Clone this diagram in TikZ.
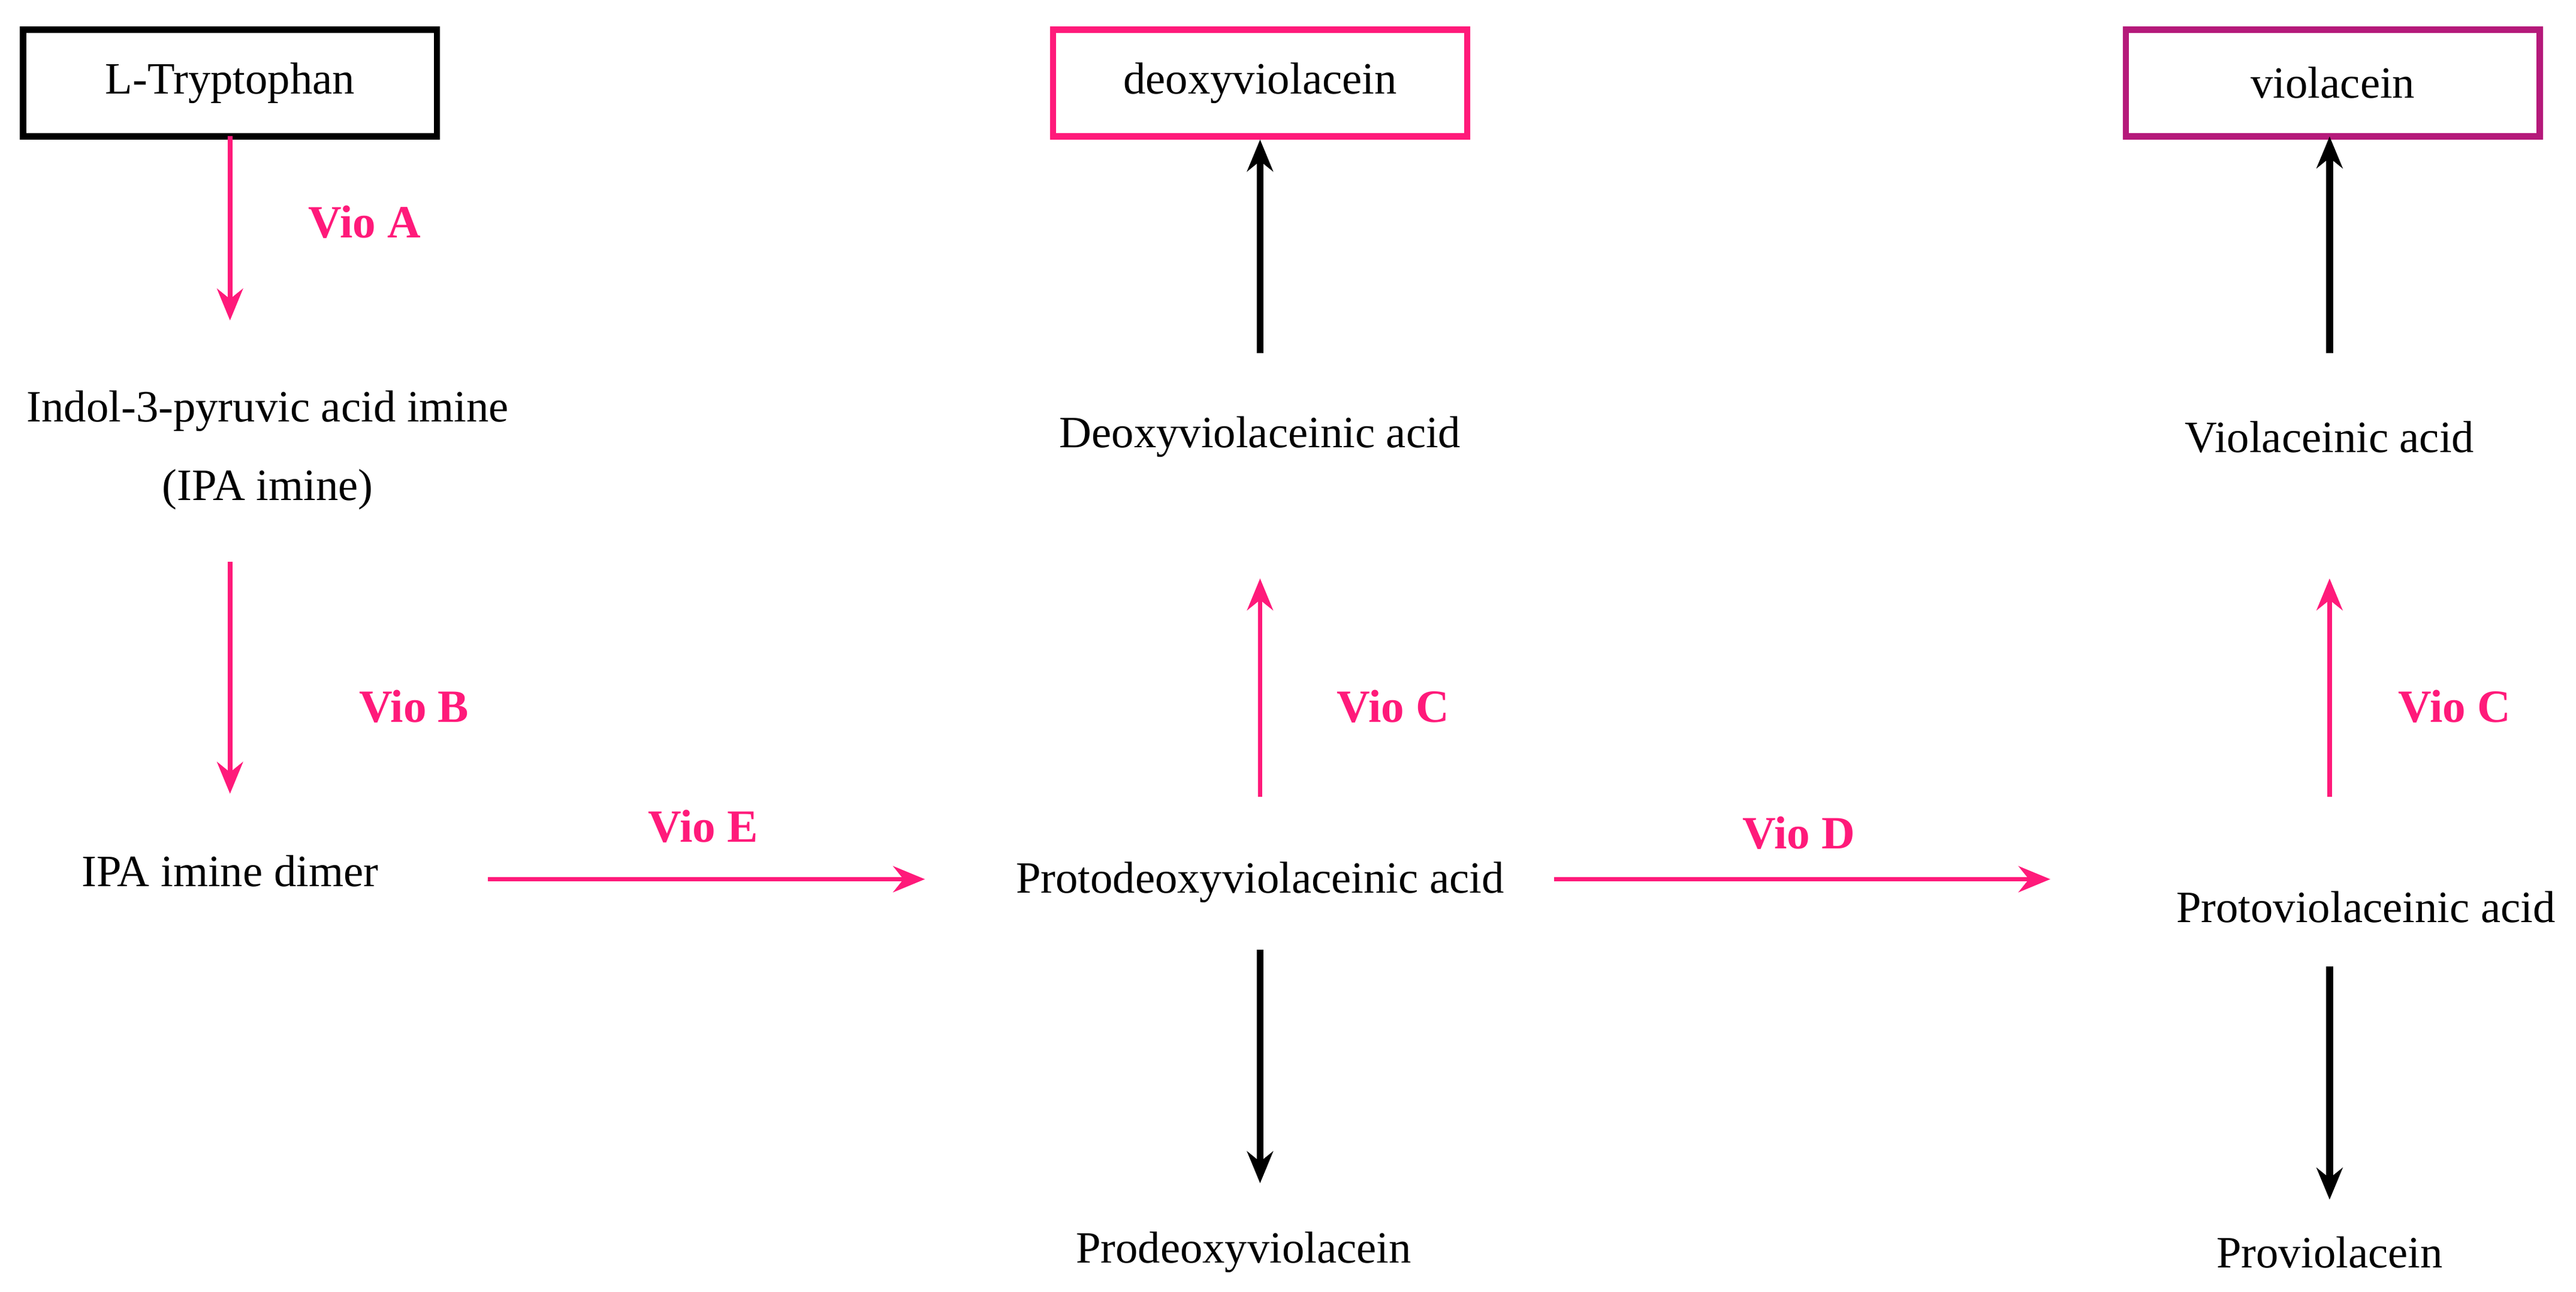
\documentclass[tikz,border=0pt]{standalone}
\usepackage{fontspec}
\setmainfont{Liberation Serif}
\usetikzlibrary{arrows.meta}
\definecolor{vpink}{HTML}{FF1A7A}
\definecolor{vpurp}{HTML}{B5197A}
\tikzset{x=0.02cm,y=-0.02cm,
 txt/.style={font=\fontsize{15.5}{17}\selectfont,inner sep=1pt},
 lab/.style={font=\fontsize{16}{18}\selectfont\bfseries,text=vpink},
 box/.style={draw,line width=2.2pt,minimum width=252*0.02cm,minimum height=65*0.02cm,font=\fontsize{15.5}{17}\selectfont},
 parr/.style={draw=vpink,line width=1.6pt,-{Stealth[length=11pt,width=9pt]}},
 barr/.style={draw=black,line width=2.4pt,-{Stealth[length=11pt,width=9pt]}}}
\begin{document}
\begin{tikzpicture}
\useasboundingbox (0,0) rectangle (1568,786);
\node[box] (trp) at (140,50.5) {L-Tryptophan};
\node[box,draw=vpink] (dv) at (767,50.5) {deoxyviolacein};
\node[box,draw=vpurp] (v) at (1420,50.5) {violacein};
\node[txt] (ipa) at (163,250) {Indol-3-pyruvic acid imine};
\node[txt] (ipa2) at (163,298) {(IPA imine)};
\node[txt] (dim) at (140,530) {IPA imine dimer};
\node[txt] (pdva) at (767,537) {Protodeoxyviolaceinic acid};
\node[txt] (dva) at (767,266) {Deoxyviolaceinic acid};
\node[txt] (pdv) at (757,762) {Prodeoxyviolacein};
\node[txt] (pva) at (1440,552) {Protoviolaceinic acid};
\node[txt] (va) at (1418,266) {Violaceinic acid};
\node[txt] (pv) at (1418,762) {Proviolacein};
\coordinate (a1) at (140,195);
\draw[parr] (140,83) -- (a1);
\node[lab] at (222,135) {Vio A};
\draw[parr] (140,342) -- (140,483);
\node[lab] at (252,430) {Vio B};
\draw[parr] (297,535) -- (563,535);
\node[lab] at (428,503) {Vio E};
\draw[parr] (767,485) -- (767,352);
\node[lab] at (848,430) {Vio C};
\draw[barr] (767,215) -- (dv.south);
\draw[barr] (767,578) -- (767,720);
\draw[parr] (946,535) -- (1248,535);
\node[lab] at (1095,507) {Vio D};
\draw[parr] (1418,485) -- (1418,352);
\node[lab] at (1494,430) {Vio C};
\draw[barr] (1418,215) -- (1418,83);
\draw[barr] (1418,588) -- (1418,730);
\end{tikzpicture}
\end{document}
